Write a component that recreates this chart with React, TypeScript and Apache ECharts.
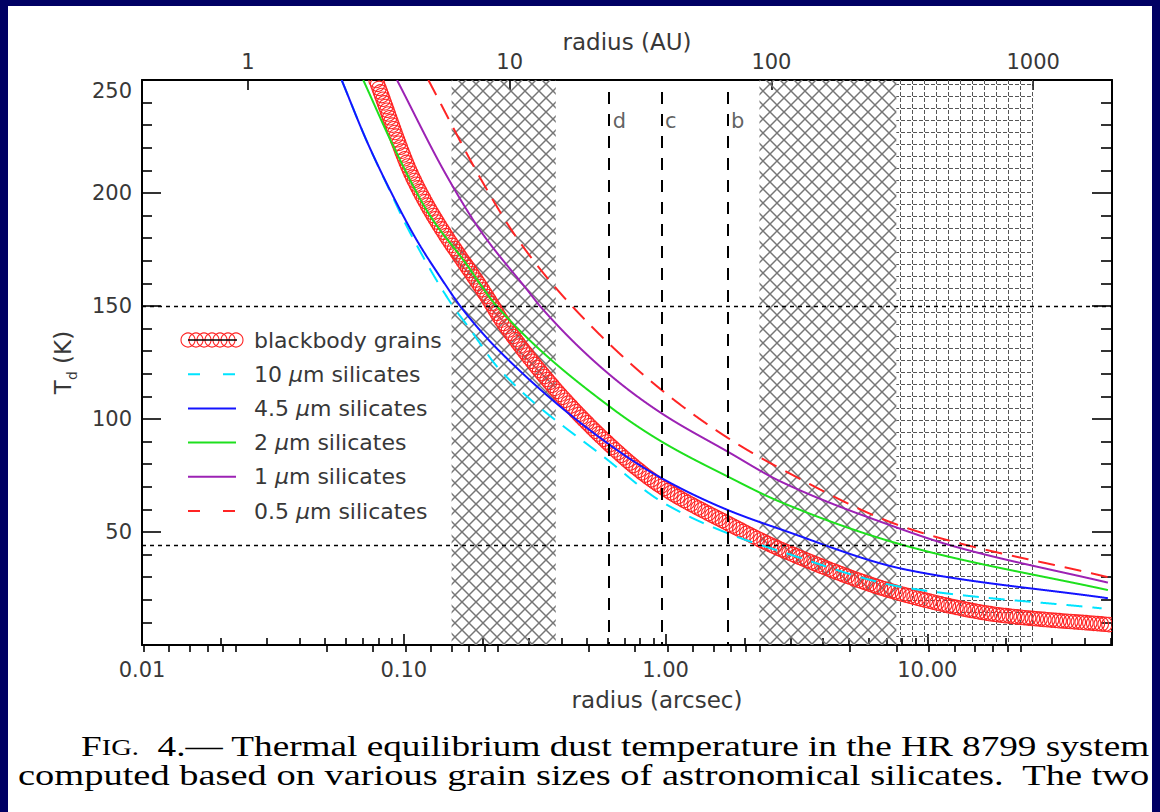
import React, { useEffect, useRef } from "react";
import * as echarts from "echarts";

// ---------------- data ----------------
const DISTANCE_PC = 39.4; // arcsec -> AU conversion
const X_MIN_ARCSEC = 0.01;
const X_MAX_AU = 2000;
const T_MIN = 0;
const T_MAX = 250;
const T_STEP = 50;

const bottomTickValues = [0.01, 0.1, 1, 10];
const bottomTickLabels = ["0.01", "0.10", "1.00", "10.00"];
const topTickValues = [1, 10, 100, 1000];
const topTickLabels = ["1", "10", "100", "1000"];

const legendLabels = [
  "blackbody grains",
  "10 μm silicates",
  "4.5 μm silicates",
  "2 μm silicates",
  "1 μm silicates",
  "0.5 μm silicates",
];

// radius (arcsec) / temperature (K)
const blackbodyR = [0.0783, 0.1094, 0.2197, 0.2331, 0.6131, 0.9663, 1.731, 2.735, 8.335, 18.9, 49.84];
const blackbodyT = [250, 205.8, 149.7, 144.7, 88.5, 70, 53.8, 42.5, 22, 13.3, 9];

const sil10R = [0.0579, 0.0722, 0.0886, 0.104, 0.1546, 0.1764, 0.2331, 0.6131, 0.9663, 1.731, 2.735, 8.335, 46.34];
const sil10T = [250, 223, 200.8, 184, 149.7, 140.8, 121.7, 81.1, 63.4, 49.4, 41.5, 25.3, 16.2];

const sil45R = [0.0579, 0.0722, 0.0886, 0.112, 0.1375, 0.1688, 0.2331, 0.6131, 0.9663, 1.731, 2.735, 8.335, 48.97];
const sil45T = [250, 223, 201.3, 179.2, 163, 148.2, 129.8, 88.5, 73.8, 59.7, 51.3, 33.3, 20.7];

const sil2R = [0.07, 0.094, 0.1259, 0.1688, 0.2264, 0.6131, 0.9663, 1.731, 2.735, 8.335, 48.97];
const sil2T = [250, 217.6, 190, 170.4, 150, 105.4, 90, 74.5, 63.4, 43.8, 24.3];

const sil1R = [0.0942, 0.1459, 0.1955, 0.3034, 0.3312, 0.6131, 0.9663, 1.731, 2.735, 7.633, 12.52, 48.97];
const sil1T = [250, 207.6, 183.6, 155.6, 150, 119.5, 102.5, 85.5, 72.5, 52, 43.8, 27.6];

const sil05R = [0.1241, 0.2012, 0.2738, 0.439, 0.9663, 1.731, 2.735, 8.335, 48.97];
const sil05T = [250, 204.3, 179.2, 150, 112.8, 91.6, 78.2, 51.8, 30];

const planetNames = ["d", "c", "b"];
const planetAU = [24, 38, 68];
const hatchZonesAU = [
  [6, 15],
  [90, 300],
];
const gridZonesAU = [[300, 1000]];
const iceLinesK = [150, 44];
const planetLineTopK = 244.7;
const planetLabelK = 232;

// ---------------- styles ----------------
const FONT = "DejaVu Sans";
const TXT = "#383838";
const C_RED = "#ff2424";
const C_CYAN = "#00e4ff";
const C_BLUE = "#1414ff";
const C_GREEN = "#1ee01e";
const C_PURPLE = "#9c22b4";

const LOG_D = Math.log10(DISTANCE_PC);
const X_MIN = Math.log10(X_MIN_ARCSEC);
const X_MAX = Math.log10(X_MAX_AU / DISTANCE_PC);
const auToX = (au: number) => Math.log10(au / DISTANCE_PC);
const toXY = (rs: number[], ts: number[]) => rs.map((r, i) => [Math.log10(r), ts[i]]);

function minorTicks(lo: number, hi: number) {
  const out: number[] = [];
  for (let e = -3; e <= 4; e++) {
    for (let m = 2; m <= 9; m++) {
      const v = m * Math.pow(10, e);
      if (v > lo * 1.0001 && v < hi * 0.9999) out.push(Math.log10(v));
    }
  }
  return out;
}

function labelFor(values: number[], labels: string[]) {
  return (v: number) => {
    for (let i = 0; i < values.length; i++) {
      if (Math.abs(Math.log10(values[i]) - v) < 1e-6) return labels[i];
    }
    return "";
  };
}

// monotone cubic through the pixel positions, for drawing only
function monotoneSample(pts: number[][], step = 0.5) {
  const n = pts.length;
  const xs = pts.map((p) => p[0]);
  const ys = pts.map((p) => p[1]);
  const d: number[] = [];
  const m: number[] = new Array(n).fill(0);
  for (let i = 0; i < n - 1; i++) d.push((ys[i + 1] - ys[i]) / (xs[i + 1] - xs[i]));
  m[0] = d[0];
  m[n - 1] = d[n - 2];
  for (let i = 1; i < n - 1; i++) {
    if (d[i - 1] * d[i] <= 0) m[i] = 0;
    else {
      const h0 = xs[i] - xs[i - 1];
      const h1 = xs[i + 1] - xs[i];
      const w1 = 2 * h1 + h0;
      const w2 = h1 + 2 * h0;
      m[i] = (w1 + w2) / (w1 / d[i - 1] + w2 / d[i]);
    }
  }
  const out: number[][] = [];
  for (let i = 0; i < n - 1; i++) {
    const h = xs[i + 1] - xs[i];
    const k = Math.max(8, Math.ceil(Math.abs(h) / step) * 3);
    for (let j = 0; j < k; j++) {
      const t = j / k;
      const t2 = t * t;
      const t3 = t2 * t;
      const h00 = 2 * t3 - 3 * t2 + 1;
      const h10 = t3 - 2 * t2 + t;
      const h01 = -2 * t3 + 3 * t2;
      const h11 = t3 - t2;
      out.push([xs[i] + h * t, h00 * ys[i] + h10 * h * m[i] + h01 * ys[i + 1] + h11 * h * m[i + 1]]);
    }
  }
  out.push(pts[n - 1]);
  return out;
}

function makeCrossHatch() {
  const s = 14;
  const c = document.createElement("canvas");
  c.width = s;
  c.height = s;
  const g = c.getContext("2d")!;
  g.strokeStyle = "#767676";
  g.lineWidth = 1.5;
  for (let k = -1; k <= 1; k++) {
    g.beginPath();
    g.moveTo(-2, -2 + k * s);
    g.lineTo(s + 2, s + 2 + k * s);
    g.stroke();
    g.beginPath();
    g.moveTo(-2, s + 2 + k * s);
    g.lineTo(s + 2, -2 + k * s);
    g.stroke();
  }
  return { image: c, repeat: "repeat", imageWidth: s, imageHeight: s };
}

function makeDashGrid() {
  const s = 12;
  const c = document.createElement("canvas");
  c.width = s;
  c.height = s;
  const g = c.getContext("2d")!;
  g.fillStyle = "#555555";
  g.fillRect(1, 0, 4, 1);
  g.fillRect(7, 0, 4, 1);
  g.fillRect(0, 2, 1, 4);
  g.fillRect(0, 8, 1, 4);
  return { image: c, repeat: "repeat", imageWidth: s, imageHeight: s };
}

export default function App() {
  const ref = useRef<HTMLDivElement>(null);

  useEffect(() => {
    if (!ref.current) return;
    const chart = echarts.init(ref.current, null, { renderer: "svg" });

    const cross = makeCrossHatch();
    const dgrid = makeDashGrid();

    const bbData = toXY(blackbodyR, blackbodyT);

    const axisLine = { show: true, onZero: false, lineStyle: { color: "#000", width: 2 } };
    const tickLine = { color: "#000", width: 1.6 };
    const labelFont = { fontFamily: FONT, fontSize: 21, color: TXT };
    const nameFont = { fontFamily: FONT, fontSize: 23, color: TXT };

    const curveSeries = (name: string, rs: number[], ts: number[], color: string, dash: number[] | null) => {
      const data = toXY(rs, ts);
      return {
        type: "custom",
        name,
        xAxisIndex: 0,
        yAxisIndex: 0,
        clip: true,
        z: 3,
        silent: true,
        data,
        renderItem: (params: any, api: any) => {
          if (params.dataIndex !== 0) return { type: "group", children: [] };
          const pix = data.map((d) => api.coord(d));
          const dense = monotoneSample(pix, 0.5);
          return {
            type: "polyline",
            shape: { points: dense },
            style: { fill: "none", stroke: color, lineWidth: 2, lineDash: dash || undefined },
          };
        },
      };
    };

    // caption measurement
    const ctx = document.createElement("canvas").getContext("2d")!;
    const measure = (s: string, size: number) => {
      ctx.font = `${size}px "Liberation Serif"`;
      return ctx.measureText(s).width;
    };
    const capSize = 30;
    const capSmall = 23;
    const cap1a = "F";
    const cap1b = "IG.";
    const cap1c = "  4.— Thermal equilibrium dust temperature in the HR 8799 system";
    const cap2 = "computed based on various grain sizes of astronomical silicates.  The two";
    const w1 = measure(cap1a, capSize) + measure(cap1b, capSmall) + measure(cap1c, capSize);
    const w2 = measure(cap2, capSize);
    const sc1 = (1150 - 81) / w1;
    const sc2 = (1150 - 18) / w2;

    // legend graphic
    const legendX0 = 188;
    const legendX1 = 236;
    const legendTextX = 254;
    const legendY0 = 340;
    const legendDY = 34.2;
    const legendColors = [C_RED, C_CYAN, C_BLUE, C_GREEN, C_PURPLE, C_RED];
    const legendDash: any[] = [null, [12, 23], null, null, null, [12, 23]];
    const legendChildren: any[] = [];
    legendLabels.forEach((lab, i) => {
      const y = legendY0 + i * legendDY;
      if (i === 0) {
        for (let k = 0; k < 7; k++) {
          legendChildren.push({
            type: "circle",
            shape: { cx: legendX0 + k * 8, cy: y, r: 7 },
            style: { fill: "none", stroke: C_RED, lineWidth: 1.1 },
          });
        }
        legendChildren.push({
          type: "line",
          shape: { x1: legendX0, y1: y, x2: legendX1 + 1, y2: y },
          style: { stroke: "#000", lineWidth: 1.6 },
        });
      } else {
        legendChildren.push({
          type: "line",
          shape: { x1: legendX0, y1: y, x2: legendX1, y2: y },
          style: { stroke: legendColors[i], lineWidth: 2, lineDash: legendDash[i] || undefined },
        });
      }
      const parts = lab.split("μ");
      const text = parts.length > 1 ? `{n|${parts[0]}}{i|μ}{n|${parts[1]}}` : `{n|${lab}}`;
      legendChildren.push({
        type: "text",
        x: legendTextX,
        y,
        style: {
          text,
          verticalAlign: "middle",
          align: "left",
          fill: TXT,
          rich: {
            n: { fontFamily: FONT, fontSize: 22, fill: TXT, color: TXT },
            i: { fontFamily: FONT, fontSize: 22, fontStyle: "italic", fill: TXT, color: TXT },
          },
        },
      });
    });

    const option: any = {
      animation: false,
      backgroundColor: "transparent",
      grid: { left: 142, top: 80, width: 970, height: 565 },
      xAxis: [
        {
          type: "value",
          position: "bottom",
          min: X_MIN,
          max: X_MAX,
          axisLine,
          axisTick: { show: true, inside: true, length: 11, lineStyle: tickLine, customValues: bottomTickValues.map(Math.log10) },
          axisLabel: {
            show: true,
            margin: 14,
            customValues: bottomTickValues.map(Math.log10),
            formatter: labelFor(bottomTickValues, bottomTickLabels),
            showMinLabel: true,
            ...labelFont,
          },
          splitLine: { show: false },
          name: "radius (arcsec)",
          nameLocation: "middle",
          nameGap: 43,
          nameMoveOverlap: false,
          nameTextStyle: { ...nameFont, padding: [0, 0, 0, 60] },
        },
        {
          type: "value",
          position: "bottom",
          min: X_MIN,
          max: X_MAX,
          axisLine: { show: false },
          axisTick: { show: true, inside: true, length: 7, lineStyle: tickLine, customValues: minorTicks(X_MIN_ARCSEC, X_MAX_AU / DISTANCE_PC) },
          axisLabel: { show: false },
          splitLine: { show: false },
        },
        {
          type: "value",
          position: "top",
          min: X_MIN + LOG_D,
          max: X_MAX + LOG_D,
          axisLine,
          axisTick: { show: true, inside: true, length: 10, lineStyle: tickLine, customValues: topTickValues.map(Math.log10) },
          axisLabel: {
            show: true,
            margin: 8,
            customValues: topTickValues.map(Math.log10),
            formatter: labelFor(topTickValues, topTickLabels),
            ...labelFont,
          },
          splitLine: { show: false },
          name: "radius (AU)",
          nameLocation: "middle",
          nameGap: 27,
          nameMoveOverlap: false,
          nameTextStyle: { ...nameFont },
        },
        {
          type: "value",
          position: "top",
          min: X_MIN + LOG_D,
          max: X_MAX + LOG_D,
          axisLine: { show: false },
          axisTick: { show: true, inside: true, length: 7, lineStyle: tickLine, customValues: minorTicks(X_MIN_ARCSEC * DISTANCE_PC, X_MAX_AU) },
          axisLabel: { show: false },
          splitLine: { show: false },
        },
      ],
      yAxis: [
        {
          type: "value",
          position: "left",
          min: T_MIN,
          max: T_MAX,
          interval: T_STEP,
          axisLine,
          axisTick: { show: true, inside: true, length: 19, lineStyle: tickLine },
          minorTick: { show: true, splitNumber: 5, length: 10, lineStyle: tickLine },
          axisLabel: {
            margin: 10,
            verticalAlignMaxLabel: "top",
            formatter: (v: number) => (v === 0 ? "" : String(v)),
            ...labelFont,
          },
          splitLine: { show: false },
          minorSplitLine: { show: false },
          name: "{t|T}{s|d}{t| (K)}",
          nameLocation: "middle",
          nameGap: 63,
          nameMoveOverlap: false,
          nameTextStyle: {
            rich: {
              t: { fontFamily: FONT, fontSize: 23, color: TXT, lineHeight: 32, verticalAlign: "middle" },
              s: { fontFamily: FONT, fontSize: 14, color: TXT, verticalAlign: "bottom" },
            },
          },
        },
        {
          type: "value",
          position: "right",
          min: T_MIN,
          max: T_MAX,
          interval: T_STEP,
          axisLine,
          axisTick: { show: true, inside: true, length: 20, lineStyle: tickLine },
          minorTick: { show: true, splitNumber: 5, length: 11, lineStyle: tickLine },
          axisLabel: { show: false },
          splitLine: { show: false },
          minorSplitLine: { show: false },
        },
      ],
      series: [
        {
          type: "line",
          name: "zones",
          data: [],
          xAxisIndex: 0,
          yAxisIndex: 0,
          z: 1,
          silent: true,
          markArea: {
            silent: true,
            data: [
              ...hatchZonesAU.map((z) => [
                { xAxis: auToX(z[0]), itemStyle: { color: cross, borderWidth: 0 } },
                { xAxis: auToX(z[1]) },
              ]),
              ...gridZonesAU.map((z) => [
                { xAxis: auToX(z[0]), itemStyle: { color: dgrid, borderWidth: 0 } },
                { xAxis: auToX(z[1]) },
              ]),
            ],
          },
          markLine: {
            silent: true,
            symbol: ["none", "none"],
            label: { show: false },
            data: [
              ...iceLinesK.map((t) => ({ yAxis: t, lineStyle: { color: "#000", width: 1.4, type: [4, 4] } })),
              ...planetAU.map((au) => [
                { coord: [auToX(au), planetLineTopK], lineStyle: { color: "#000", width: 2, type: [12, 10] } },
                { coord: [auToX(au), 0] },
              ]),
            ],
          },
        },
        {
          type: "scatter",
          name: "planets",
          xAxisIndex: 0,
          yAxisIndex: 0,
          silent: true,
          symbolSize: 1,
          itemStyle: { color: "rgba(0,0,0,0)" },
          z: 4,
          data: planetAU.map((au, i) => ({ value: [auToX(au), planetLabelK], name: planetNames[i] })),
          label: { show: true, position: "right", distance: 3, formatter: "{b}", ...labelFont },
        },
        {
          type: "custom",
          name: legendLabels[0],
          xAxisIndex: 0,
          yAxisIndex: 0,
          clip: true,
          z: 2,
          silent: true,
          data: bbData,
          renderItem: (params: any, api: any) => {
            if (params.dataIndex !== 0) return { type: "group", children: [] };
            const pix = bbData.map((d) => api.coord(d));
            const dense = monotoneSample(pix, 0.5);
            const children: any[] = [];
            const STEP = 3.8;
            let acc = STEP;
            for (let i = 1; i < dense.length; i++) {
              const dx = dense[i][0] - dense[i - 1][0];
              const dy = dense[i][1] - dense[i - 1][1];
              acc += Math.sqrt(dx * dx + dy * dy);
              if (acc >= STEP) {
                acc = 0;
                children.push({
                  type: "circle",
                  shape: { cx: dense[i][0], cy: dense[i][1], r: 7.2 },
                  style: { fill: "none", stroke: C_RED, lineWidth: 1.1 },
                });
              }
            }
            return { type: "group", children };
          },
        },
        curveSeries(legendLabels[1], sil10R, sil10T, C_CYAN, [16, 10]),
        curveSeries(legendLabels[2], sil45R, sil45T, C_BLUE, null),
        curveSeries(legendLabels[3], sil2R, sil2T, C_GREEN, null),
        curveSeries(legendLabels[4], sil1R, sil1T, C_PURPLE, null),
        curveSeries(legendLabels[5], sil05R, sil05T, C_RED, [17, 10]),
      ],
      graphic: [
        { type: "group", children: legendChildren, z: 10 },
        {
          type: "text",
          x: 81,
          y: 745,
          scaleX: sc1,
          z: 10,
          style: {
            text: `{a|${cap1a}}{b|${cap1b}}{a|${cap1c}}`,
            align: "left",
            verticalAlign: "middle",
            fill: "#000",
            rich: {
              a: { fontFamily: "Liberation Serif", fontSize: capSize, fill: "#000", color: "#000", lineHeight: 32, verticalAlign: "bottom" },
              b: { fontFamily: "Liberation Serif", fontSize: capSmall, fill: "#000", color: "#000", verticalAlign: "bottom", padding: [0, 0, 2, 0] },
            },
          },
        },
        {
          type: "text",
          x: 18,
          y: 775,
          scaleX: sc2,
          z: 10,
          style: {
            text: cap2,
            align: "left",
            verticalAlign: "middle",
            fill: "#000",
            fontFamily: "Liberation Serif",
            fontSize: capSize,
          },
        },
      ],
    };

    chart.setOption(option);
    return () => chart.dispose();
  }, []);

  return (
    <div style={{ position: "fixed", left: 0, top: 0, width: 1160, height: 812, background: "#000064", overflow: "hidden" }}>
      <div style={{ position: "absolute", left: 8, top: 6, width: 1144, height: 806, background: "#ffffff" }} />
      <div ref={ref} style={{ position: "absolute", left: 0, top: 0, width: 1160, height: 812 }} />
    </div>
  );
}
